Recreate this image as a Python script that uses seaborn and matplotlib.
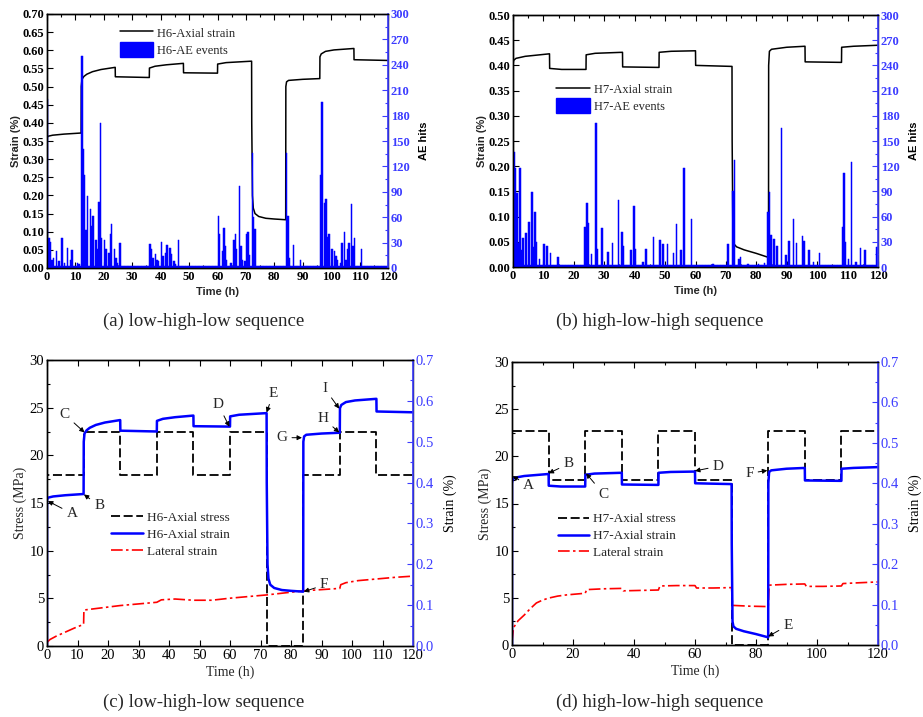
import numpy as np
import pandas as pd
import matplotlib
matplotlib.use("Agg")
import matplotlib.pyplot as plt
import seaborn as sns
from matplotlib.lines import Line2D
from matplotlib.patches import Patch
from matplotlib.ticker import MultipleLocator, FormatStrFormatter

sns.set_theme(style="white")
plt.rcParams['font.family'] = ['Liberation Serif', 'DejaVu Serif']
plt.rcParams['axes.unicode_minus'] = False

# ---------------- DATA ----------------
# H6 axial strain (%) vs time (h)
H6_T = [0, 0, 0.3, 2, 6, 12,
        12.05, 12.3, 13, 14, 16, 19, 24,
        24.05, 36,
        36.05, 38, 42, 48,
        48.05, 60,
        60.05, 63, 72,
        72.05, 72.3, 72.6, 73.2, 74.5, 77, 80, 84,
        84.05, 84.3, 85, 90, 96,
        96.05, 96.5, 98, 101, 108,
        108.05, 120]
H6_STRAIN = [0.0, 0.357, 0.363, 0.366, 0.369, 0.372,
             0.50, 0.520, 0.528, 0.534, 0.541, 0.547, 0.553,
             0.527, 0.525,
             0.551, 0.556, 0.560, 0.564,
             0.538, 0.537,
             0.562, 0.566, 0.570,
             0.40, 0.20, 0.165, 0.150, 0.142, 0.137, 0.135, 0.133,
             0.50, 0.513, 0.517, 0.520, 0.522,
             0.582, 0.590, 0.597, 0.601, 0.605,
             0.574, 0.572]

# H7 axial strain (%) vs time (h)
H7_T = [0, 0, 0.2, 1, 4, 12,
        12.05, 16, 24,
        24.05, 27, 36,
        36.05, 48,
        48.05, 52, 60,
        60.05, 72,
        72.05, 72.3, 72.6, 73.5, 76, 80, 84,
        84.05, 84.3, 85, 90, 96,
        96.05, 108,
        108.05, 112, 120]
H7_STRAIN = [0.0, 0.400, 0.410, 0.414, 0.418, 0.423,
             0.394, 0.392, 0.392,
             0.421, 0.424, 0.426,
             0.397, 0.396,
             0.426, 0.428, 0.429,
             0.400, 0.398,
             0.25, 0.058, 0.046, 0.040, 0.034, 0.027, 0.019,
             0.40, 0.428, 0.432, 0.436, 0.438,
             0.407, 0.406,
             0.436, 0.438, 0.440]

# Lateral strain (%)
H6_LAT_T = [0, 1, 3, 6, 9, 12, 12.1, 24, 36, 37.5, 42, 48, 54, 60, 66, 72, 78, 84,
            90, 96, 96.3, 98, 102, 108, 114, 120]
H6_LAT = [0.009, 0.016, 0.024, 0.034, 0.044, 0.053, 0.088, 0.099, 0.107, 0.113, 0.115,
          0.112, 0.112, 0.117, 0.121, 0.125, 0.130, 0.135, 0.138, 0.141, 0.150, 0.155,
          0.160, 0.164, 0.168, 0.171]
H7_LAT_T = [0, 0.5, 2, 4, 6, 8, 10, 12, 15, 18, 24, 24.5, 30, 36, 36.5, 42, 48, 48.5, 54,
            60, 60.5, 66, 72, 72.3, 78, 84, 84.3, 90, 96, 96.5, 102, 108, 108.5, 114, 120]
H7_LAT = [0.008, 0.043, 0.060, 0.074, 0.090, 0.104, 0.111, 0.116, 0.121, 0.124, 0.128,
          0.137, 0.139, 0.140, 0.134, 0.135, 0.136, 0.146, 0.147, 0.147, 0.141, 0.141,
          0.142, 0.098, 0.096, 0.095, 0.148, 0.150, 0.151, 0.145, 0.145, 0.146, 0.152,
          0.154, 0.156]

# Axial stress (MPa) per 12 h stage
STAGE_START = [0, 12, 24, 36, 48, 60, 72, 84, 96, 108]
H6_STRESS = [17.9, 22.4, 17.9, 22.4, 17.9, 22.4, 0.0, 17.9, 22.4, 17.9]
H7_STRESS = [22.7, 17.5, 22.7, 17.5, 22.7, 17.5, 0.0, 22.7, 17.5, 22.7]

# AE hits (spikes) and background level
AE_A_TIME = [0.2, 0.6, 1.1, 1.6, 2.2, 3.3, 4.1, 5.2, 6.2, 7.4, 8.1, 8.9, 10.7, 11.4,
             12.2, 12.8, 13.3, 13.8, 14.2, 15.0, 15.7, 16.3, 17.1, 17.6, 18.2, 18.8, 19.4,
             20.0, 20.7, 21.5, 22.2, 22.9, 23.5, 24.1, 24.6, 25.6,
             36.1, 36.7, 37.3, 38.1, 38.9, 39.4, 40.1, 40.8, 41.6, 42.4, 43.1, 43.9, 44.6,
             45.3, 46.2,
             60.3, 60.9, 61.5, 62.1, 62.7, 63.3, 64.8, 65.6, 66.2, 66.8, 67.6, 68.2, 68.8,
             69.6, 70.1, 70.7, 71.3, 72.3, 72.8, 73.3,
             84.1, 84.7, 85.3, 86.9, 89.4,
             96.1, 96.9, 97.5, 98.1, 98.8, 99.4, 100.2, 101.0, 101.7, 102.3, 103.0, 103.9,
             104.6, 105.2, 105.8, 106.4, 107.0, 107.5, 108.2, 110.8]
AE_A_HITS = [200, 35, 31, 10, 12, 20, 8, 35, 6, 24, 10, 21, 6, 5,
             250, 141, 110, 45, 85, 70, 50, 62, 33, 22, 78, 171, 35,
             33, 22, 18, 40, 52, 22, 12, 6, 30,
             28, 22, 12, 17, 10, 8, 31, 14, 18, 27, 24, 16, 8,
             5, 33,
             61, 40, 20, 47, 26, 10, 6, 33, 40, 22, 97, 26, 10,
             8, 40, 43, 15, 136, 60, 46,
             136, 61, 12, 27, 10,
             110, 196, 77, 82, 37, 40, 22, 20, 14, 10, 6, 29,
             43, 10, 22, 29, 76, 26, 35, 23]
AE_A_BACKGROUND = 2

AE_B_TIME = [0.3, 0.8, 1.2, 1.6, 2.1, 2.7, 3.3, 4.2, 5.3, 6.0, 6.7, 7.2, 7.9, 8.8, 10.0,
             11.3, 12.4, 14.8,
             23.8, 24.3, 24.9, 25.5, 27.1, 27.6, 29.0, 31.2, 32.5, 34.8, 35.6, 36.2, 38.7,
             39.8, 40.3, 42.5, 43.6, 46.1, 48.3, 49.1, 50.9, 52.6, 53.7, 55.3, 56.4, 58.6,
             65.5,
             70.5, 72.2, 72.9, 74.3, 74.8, 77.2, 80.5, 82.7,
             83.9, 84.3, 84.9, 85.5, 86.7, 88.1, 89.6, 90.7, 92.3, 93.1, 95.1, 95.8, 97.2,
             98.7, 100.7,
             108.1, 108.5, 109.0, 110.1, 111.2, 112.5, 114.1, 115.5, 119.9]
AE_B_HITS = [137, 118, 88, 28, 118, 20, 34, 40, 54, 89, 24, 65, 30, 10, 27,
             25, 17, 12,
             48, 76, 52, 15, 171, 22, 47, 18, 29, 80, 42, 25, 20,
             73, 22, 6, 22, 36, 32, 27, 27, 17, 51, 20, 118, 57,
             3,
             27, 90, 127, 10, 12, 3, 4, 5,
             65, 89, 38, 33, 25, 165, 14, 31, 57, 28, 37, 31, 20,
             6, 17,
             48, 112, 30, 10, 125, 6, 23, 20, 24]
AE_B_BACKGROUND = 2

# ---------------- STYLE ----------------
BLUE = '#0000ff'
AXBLUE = '#3c3cff'
BIN_W = 0.5

W, H = 923, 717
fig = plt.figure(figsize=(W / 100, H / 100), dpi=100)


def rect(l, t, r, b):
    return [l / W, 1 - b / H, (r - l) / W, (b - t) / H]


def ae_bins(times, hits, background):
    edges = np.arange(0, 120 + BIN_W / 2, BIN_W)
    centers = edges[:-1] + BIN_W / 2
    vals = np.full(len(centers), float(background))
    for t, h in zip(times, hits):
        i = min(int(t / BIN_W), len(vals) - 1)
        vals[i] = max(vals[i], h)
    return pd.DataFrame({'time': centers, 'hits': vals})


def stress_steps(levels):
    x = [0] + STAGE_START + [120]
    y = [0] + levels + [levels[-1]]
    return pd.DataFrame({'time': x, 'stress': y})


def style_axes(ax, ax2, xmaj, xmin, ymaj, ymin, y2maj, y2min, yfmt, y2fmt,
               size, bold, ylim, y2lim):
    ax.set_xlim(0, 120)
    ax.set_ylim(*ylim)
    ax2.set_ylim(*y2lim)
    ax2.set_xlim(0, 120)
    ax.xaxis.set_major_locator(MultipleLocator(xmaj))
    if xmin:
        ax.xaxis.set_minor_locator(MultipleLocator(xmin))
    ax.yaxis.set_major_locator(MultipleLocator(ymaj))
    if ymin:
        ax.yaxis.set_minor_locator(MultipleLocator(ymin))
    ax2.yaxis.set_major_locator(MultipleLocator(y2maj))
    ax2.yaxis.set_minor_locator(MultipleLocator(y2min))
    ax.yaxis.set_major_formatter(FormatStrFormatter(yfmt))
    ax2.yaxis.set_major_formatter(FormatStrFormatter(y2fmt))
    ax.tick_params(which='both', direction='in', top=True, bottom=True, left=True,
                   right=False, labelsize=size, colors='black', width=0.8, pad=2)
    ax.tick_params(which='major', length=4)
    ax.tick_params(which='minor', length=2)
    ax2.tick_params(axis='y', which='both', direction='in', right=True, left=False,
                    labelsize=size, colors=AXBLUE, width=0.8, pad=2)
    ax2.tick_params(axis='y', which='major', length=4)
    ax2.tick_params(axis='y', which='minor', length=2)
    ax2.tick_params(axis='x', which='both', bottom=False, top=False, labelbottom=False)
    for a in (ax, ax2):
        for s in a.spines.values():
            s.set_color('black')
            s.set_linewidth(1.0)
            s.set_visible(True)
        a.grid(False)
    ax2.spines['right'].set_color(AXBLUE)
    ax2.spines['right'].set_linewidth(1.2)
    ax.set_facecolor('none')
    ax2.set_facecolor('none')
    if bold:
        for lab in ax.get_xticklabels() + ax.get_yticklabels() + ax2.get_yticklabels():
            lab.set_fontweight('bold')


# ---------------- TOP PANELS (a), (b) ----------------
top_specs = [
    dict(rect=rect(47, 14, 388, 268), t=H6_T, s=H6_STRAIN, ae=(AE_A_TIME, AE_A_HITS, AE_A_BACKGROUND),
         ylim=(0, 0.70), labels=['H6-Axial strain', 'H6-AE events'], leg=(0.213, 0.955)),
    dict(rect=rect(513, 15, 878, 267), t=H7_T, s=H7_STRAIN, ae=(AE_B_TIME, AE_B_HITS, AE_B_BACKGROUND),
         ylim=(0, 0.50), labels=['H7-Axial strain', 'H7-AE events'], leg=(0.118, 0.735)),
]
for sp in top_specs:
    ax = fig.add_axes(sp['rect'])
    ax2 = ax.twinx()
    df_line = pd.DataFrame({'time': sp['t'], 'strain': sp['s']})
    sns.lineplot(data=df_line, x='time', y='strain', ax=ax, color='black', lw=1.1,
                 sort=False, estimator=None)
    df_ae = ae_bins(*sp['ae'])
    sns.histplot(data=df_ae, x='time', weights='hits', binwidth=BIN_W, binrange=(0, 120),
                 ax=ax2, color=BLUE, alpha=1.0, edgecolor=BLUE, linewidth=0.35, legend=False)
    style_axes(ax, ax2, 10, 5, 0.05, None, 30, 15, '%.2f', '%d', 9, True,
               sp['ylim'], (0, 300))
    lab_font = dict(family=['Liberation Sans', 'DejaVu Sans'], weight='bold', size=8)
    ax.set_xlabel('Time (h)', fontdict=lab_font, labelpad=3)
    ax.set_ylabel('Strain (%)', fontdict=lab_font, labelpad=1)
    ax2.set_ylabel('AE hits', fontdict=lab_font, labelpad=7, color='black')
    handles = [Line2D([], [], color='black', lw=1.1), Patch(color=BLUE)]
    ax2.legend(handles, sp['labels'], loc='upper left', bbox_to_anchor=sp['leg'],
               frameon=False, fontsize=9, handlelength=2.7, handleheight=1.45,
               handletextpad=0.3, labelspacing=0.15, borderpad=0, borderaxespad=0)

# ---------------- BOTTOM PANELS (c), (d) ----------------
arrow = dict(arrowstyle='-|>', color='black', lw=0.7, mutation_scale=7, shrinkA=1, shrinkB=0)
bot_specs = [
    dict(rect=rect(47, 360, 413, 646), t=H6_T, s=H6_STRAIN, lt=H6_LAT_T, l=H6_LAT,
         stress=H6_STRESS, xmaj=10, xmin=None,
         labels=['H6-Axial stress', 'H6-Axial strain', 'Lateral strain'], leg=(0.175, 0.47),
         notes=[('A', (8.2, 13.9), (0.3, 15.2)), ('B', (17.1, 14.7), (12.1, 15.9)),
                ('C', (5.8, 24.3), (12.3, 22.4)), ('D', (56.2, 25.3), (59.8, 23.0)),
                ('E', (74.2, 26.5), (72.0, 24.5)), ('F', (90.9, 6.4), (84.2, 5.7)),
                ('G', (77.0, 21.85), (83.6, 21.85)), ('H', (90.5, 23.9), (95.8, 22.4)),
                ('I', (91.1, 27.0), (95.8, 24.9))]),
    dict(rect=rect(512, 362, 878, 645), t=H7_T, s=H7_STRAIN, lt=H7_LAT_T, l=H7_LAT,
         stress=H7_STRESS, xmaj=20, xmin=10,
         labels=['H7-Axial stress', 'H7-Axial strain', 'Lateral strain'], leg=(0.125, 0.466),
         notes=[('A', (5.5, 16.9), (0.2, 17.9)), ('B', (18.5, 19.2), (12.0, 18.2)),
                ('C', (30.0, 16.0), (24.3, 18.2)), ('D', (67.6, 18.95), (60.0, 18.45)),
                ('E', (90.5, 2.1), (84.0, 0.9)), ('F', (77.8, 18.2), (83.7, 18.5))]),
]
DASH = (0, (5, 2))
DASHDOT = (0, (7, 2, 1.5, 2))
for sp in bot_specs:
    ax = fig.add_axes(sp['rect'])
    ax2 = ax.twinx()
    df_s = stress_steps(sp['stress'])
    sns.lineplot(data=df_s, x='time', y='stress', ax=ax, color='black', lw=1.3,
                 linestyle=DASH, drawstyle='steps-post', sort=False, estimator=None)
    df_lat = pd.DataFrame({'time': sp['lt'], 'strain': sp['l']})
    sns.lineplot(data=df_lat, x='time', y='strain', ax=ax2, color='#ff0000', lw=1.2,
                 linestyle=DASHDOT, sort=False, estimator=None)
    df_ax = pd.DataFrame({'time': sp['t'], 'strain': sp['s']})
    sns.lineplot(data=df_ax, x='time', y='strain', ax=ax2, color=BLUE, lw=1.8,
                 sort=False, estimator=None)
    style_axes(ax, ax2, sp['xmaj'], sp['xmin'], 5, 2.5, 0.1, 0.05, '%d', '%.1f', 10.5,
               False, (0, 30), (0, 0.7))
    ax.set_xlabel('Time (h)', fontsize=10, labelpad=3)
    ax.set_ylabel('Stress (MPa)', fontsize=10, labelpad=2)
    ax2.set_ylabel('Strain (%)', fontsize=10, labelpad=7, color='black')
    handles = [Line2D([], [], color='black', lw=1.3, linestyle=DASH),
               Line2D([], [], color=BLUE, lw=1.8),
               Line2D([], [], color='#ff0000', lw=1.2, linestyle=DASHDOT)]
    ax2.legend(handles, sp['labels'], loc='upper left', bbox_to_anchor=sp['leg'],
               frameon=False, fontsize=9.5, handlelength=2.4, handletextpad=0.3,
               labelspacing=0.35, borderpad=0, borderaxespad=0)
    for txt, tpos, xy in sp['notes']:
        ax2.annotate(txt, xy=xy, xytext=tpos, xycoords=ax.transData,
                     textcoords=ax.transData, ha='center', va='center', fontsize=11,
                     arrowprops=arrow)

# ---------------- CAPTIONS ----------------
cap = dict(ha='center', va='center', fontsize=13.5)
fig.text(204 / W, 1 - 321 / H, '(a) low-high-low sequence', **cap)
fig.text(660 / W, 1 - 321 / H, '(b) high-low-high sequence', **cap)
fig.text(204 / W, 1 - 702 / H, '(c) low-high-low sequence', **cap)
fig.text(660 / W, 1 - 702 / H, '(d) high-low-high sequence', **cap)

fig.savefig('out.png', dpi=100, facecolor='white')
